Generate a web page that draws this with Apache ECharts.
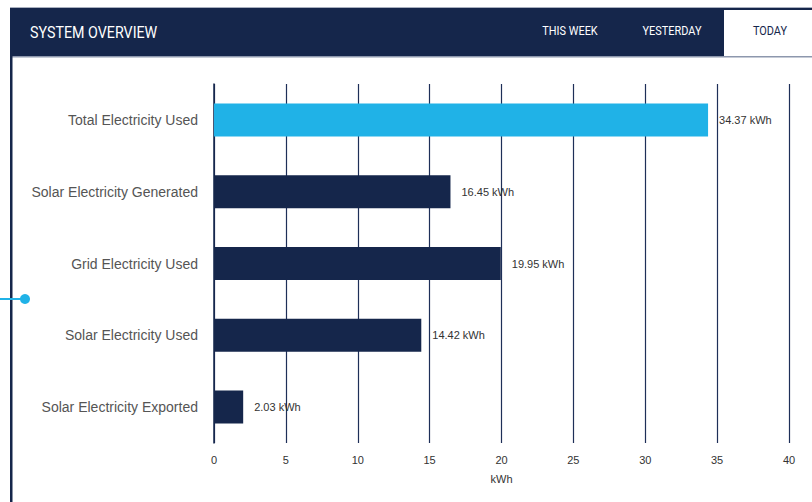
<!DOCTYPE html>
<html><head><meta charset="utf-8">
<script src="https://cdn.jsdelivr.net/npm/echarts@6/dist/echarts.min.js"></script>
<style>html,body{margin:0;padding:0;background:#fff;}#c{width:812px;height:502px;}</style>
</head><body><div id="c"></div>
<script>
const categories = ['Total Electricity Used','Solar Electricity Generated','Grid Electricity Used','Solar Electricity Used','Solar Electricity Exported'];
const values = [34.37, 16.45, 19.95, 14.42, 2.03];
const barColors = ['#20b2e7','#15264b','#15264b','#15264b','#15264b'];
const tabs = ['THIS WEEK','YESTERDAY','TODAY'];
const title = 'SYSTEM OVERVIEW';
const unit = 'kWh';

const navy = '#15264b';
const hfont = 'Roboto, sans-serif';
const bfont = '"Liberation Sans",Arial,sans-serif';
const chart = echarts.init(document.getElementById('c'), null, {renderer:'svg'});
chart.setOption({
  animation:false,
  backgroundColor:'#fff',
  grid:{left:214,right:23,top:84,bottom:59,containLabel:false},
  xAxis:{type:'value',min:0,max:40,interval:5,
    name:unit,nameLocation:'middle',nameGap:30,
    nameTextStyle:{color:'#333',fontSize:11,fontFamily:bfont},
    axisLine:{show:false},axisTick:{show:false},
    axisLabel:{color:'#333',fontSize:11,margin:11,fontFamily:bfont},
    splitLine:{show:true,lineStyle:{color:'#1e2f58',width:1.2}}},
  yAxis:{type:'category',data:categories,inverse:true,
    axisLine:{show:true,lineStyle:{color:navy,width:1.5}},axisTick:{show:false},
    axisLabel:{color:'#555',fontSize:14,margin:16,fontFamily:bfont,verticalAlign:'middle'}},
  series:[{type:'bar',barWidth:33,
    data:values.map((v,i)=>({value:v,itemStyle:{color:barColors[i]}})),
    label:{show:true,position:'right',distance:11,color:'#333',fontSize:11,fontFamily:bfont,
      formatter:p=>p.value.toFixed(2)+' '+unit}}],
  graphic:[
    {type:'rect',left:10,top:7,shape:{width:802,height:1.5},style:{fill:'#a9b0bf'},z:100},
    {type:'rect',left:10,top:8,shape:{width:802,height:48},style:{fill:navy},z:100},
    {type:'rect',left:724,top:10,shape:{width:88,height:46},style:{fill:'#fff'},z:101},
    {type:'rect',left:10,top:56,shape:{width:802,height:1.5},style:{fill:'#8d97ad'},z:100},
    {type:'text',x:30,y:32,scaleX:0.84,style:{text:title,fill:'#fff',fontSize:17,fontFamily:hfont,align:'left',verticalAlign:'middle'},z:102},
    {type:'text',x:570,y:31,scaleX:0.84,style:{text:tabs[0],fill:'#fff',fontSize:13,fontFamily:hfont,align:'center',verticalAlign:'middle'},z:102},
    {type:'text',x:672,y:31,scaleX:0.84,style:{text:tabs[1],fill:'#fff',fontSize:13,fontFamily:hfont,align:'center',verticalAlign:'middle'},z:102},
    {type:'text',x:770,y:31,scaleX:0.84,style:{text:tabs[2],fill:navy,fontSize:13,fontFamily:hfont,align:'center',verticalAlign:'middle'},z:102},
    {type:'rect',left:10,top:56,shape:{width:2.5,height:446},style:{fill:navy},z:100},
    {type:'line',shape:{x1:0,y1:299,x2:25,y2:299},style:{stroke:'#20b2e7',lineWidth:2},z:100},
    {type:'circle',shape:{cx:25,cy:299,r:5},style:{fill:'#20b2e7'},z:101}
  ]
});
</script></body></html>
